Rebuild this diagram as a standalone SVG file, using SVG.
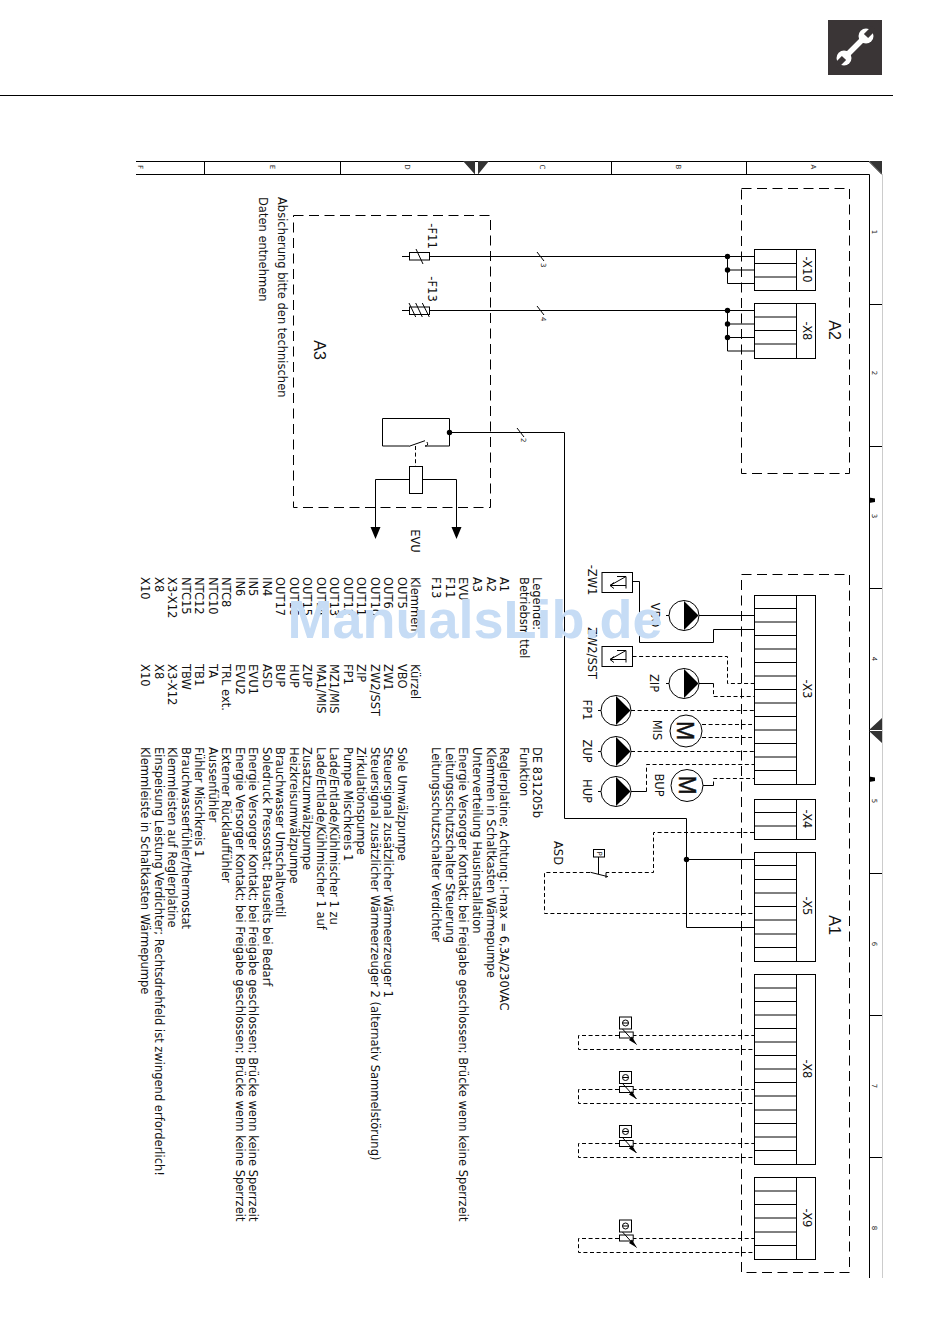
<svg xmlns="http://www.w3.org/2000/svg" width="950" height="1344" viewBox="0 0 950 1344">
<style>
text{font-family:"DejaVu Sans",Verdana,sans-serif;font-size:11.5px;fill:#111}
.l{fill:none;stroke:#000;stroke-width:1}
.d{fill:none;stroke:#000;stroke-width:1;stroke-dasharray:4 2.6}
.b{fill:none;stroke:#000;stroke-width:1;stroke-dasharray:10 5.5}
.w{fill:#fff;stroke:#000;stroke-width:1}
.k{fill:#000;stroke:none}
.m{text-anchor:middle}
.t{font-size:7px;fill:#222}
.big{font-size:16px;font-family:"Liberation Sans",Arial,sans-serif}
.mot{font-size:23px;font-family:"Liberation Sans",Arial,sans-serif;stroke:#111;stroke-width:.4}
</style>
<defs>
<g id="pump"><circle r="15" class="w"/><path class="k" d="M0 -14.500L14.500 0L0 14.500Z"/></g>
<g id="sensor"><rect x="0" y="-18" width="12" height="12" class="w"/><rect x="0" y="-3" width="13.700" height="6" class="w"/><circle cx="6" cy="-12" r="3" class="l"/><path class="l" d="M3 -12H9"/><path class="l" d="M3 -6L17 9.500"/><path class="k" d="M9.500 5L12.500 1.500L17 9.500Z"/></g>
<g id="zw"><rect x="0" y="0" width="30.500" height="20" class="w"/><path class="l" d="M15 4H24V16M24 4L8 13H24M8 13L12 10M8 13L12 16"/></g>
</defs>
<rect width="950" height="1344" fill="#fff"/>
<g id="page">
<path class="l" d="M0 95.500H893"/>
<rect x="828" y="20" width="54" height="55" fill="#3a3536"/>
<path d="M847 55L863 39" stroke="#fff" stroke-width="5.500" fill="none"/>
<circle cx="866" cy="36" r="7.500" fill="#fff"/><circle cx="844" cy="58" r="7.500" fill="#fff"/>
<path d="M866 36L874 28M844 58L836 66" stroke="#3a3536" stroke-width="6" fill="none"/>
</g>
<g id="frame">
<path class="l" d="M136 161.500H869L882 174.500M136 174.500H869.500V1278M204.500 161.500V174.500M340.500 161.500V174.500M611.500 161.500V174.500M746.500 161.500V174.500M869.500 304.500H882M869.500 446.500H882M869.500 588.500H882M869.500 873.500H882M869.500 1015.500H882M869.500 1157.500H882"/>
<path d="M882.500 174V1278" stroke="#ccc" stroke-width="1" fill="none"/>
<path fill="#333" d="M869 161H882V174Z"/>
<path fill="#333" d="M463 161H475V174.500ZM478 161H489L478 174.500Z"/>
<path fill="#333" d="M869 730L882 718V730ZM869 731H882V743Z"/>
<path class="k" d="M869 497.500L875 498.500V502L869 503Z"/>
<path class="k" d="M869 776.500L875 777.500V781L869 782Z"/>
<g transform="rotate(90)">
<text class="m t" x="167" y="-138">F</text><text class="m t" x="167" y="-270">E</text><text class="m t" x="167" y="-405">D</text><text class="m t" x="167" y="-540">C</text><text class="m t" x="167" y="-676">B</text><text class="m t" x="167" y="-811">A</text>
<text class="m t" x="232" y="-872">1</text><text class="m t" x="373" y="-872">2</text><text class="m t" x="516" y="-872">3</text><text class="m t" x="659" y="-872">4</text><text class="m t" x="801" y="-872">5</text><text class="m t" x="944" y="-872">6</text><text class="m t" x="1086" y="-872">7</text><text class="m t" x="1228" y="-872">8</text>
</g>
</g>
<g id="areas">
<rect id="A2-box" class="b" x="741.500" y="188.500" width="108" height="285"/>
<rect id="A1-box" class="b" x="741.500" y="574.500" width="108" height="698"/>
<rect id="A3-box" class="b" x="293.500" y="215.500" width="197" height="292"/>
</g>
<g id="connectors">
<path class="l" d="M429.500 256.500H754M727.500 256.500V283.500H754M727.500 270H754M429.500 310.500H754M727.500 310.500V351H754M727.500 324H754M727.500 337.500H754"/>
<path class="l" d="M537 252L544 261M537 306L544 315M517 428L524 437"/>
<path class="l" d="M449.500 432.500H564.500V818.500H686.500V927.500H754M686.500 859.500H754"/>
<path class="l" d="M699 615.500H754M632.500 581.500H639.500V642.500H713.500V629.500H754M699 683.500H713.500M631 791.500H646.500M703 785.500H713.500"/>
<path class="d" d="M632.500 656.500H727.500V683.500H754M713.500 683.500V696.500H754M631 710.500H754M702 724.500H752M702 737.500H752M631 751.500H754M646.500 791.500V764.500H754M713.500 785.500V778.500H754"/>
<path class="d" d="M754 832.500H653.500V872.500H606M590 872.500H544.500V913.500H754"/>
<path class="d" d="M632.500 1035.500H754M619 1035.500H578.500V1049.500H754M632.500 1089.500H754M619 1089.500H578.500V1103.500H754M632.500 1143.500H754M619 1143.500H578.500V1157.500H754M632.500 1238.500H754M619 1238.500H578.500V1252.500H754"/>
<path class="d" d="M415.500 446V466"/>
<path class="l" d="M409 479.500H375.500V527M423 479.500H456.500V527"/>
<path class="k" d="M370.500 527H380.500L375.500 539ZM451.500 527H461.500L456.500 539Z"/>
<g class="k"><circle cx="727.500" cy="256.500" r="2.700"/><circle cx="727.500" cy="270" r="2.700"/><circle cx="727.500" cy="310.500" r="2.700"/><circle cx="727.500" cy="324" r="2.700"/><circle cx="727.500" cy="337.500" r="2.700"/><circle cx="449.500" cy="432.500" r="2.700"/><circle cx="686.500" cy="859.500" r="2.700"/></g>
</g>
<g id="term-X10"><rect class="w" x="754.500" y="249.500" width="61" height="41"/><path class="l" d="M796.500 249.500V290.500M754.500 263.500H796.500M754.500 277H796.500"/><text class="m" transform="translate(803 269.500) rotate(90)">-X10</text></g>
<g id="term-X8a"><rect class="w" x="754.500" y="303.500" width="61" height="55"/><path class="l" d="M796.500 303.500V358.500M754.500 317H796.500M754.500 330.500H796.500M754.500 344H796.500"/><text class="m" transform="translate(803 331) rotate(90)">-X8</text></g>
<g id="term-X3"><rect class="w" x="754.500" y="595.500" width="61" height="189"/><path class="l" d="M796.500 595.500V784.500M754.500 608.500H796.500M754.500 622H796.500M754.500 635.500H796.500M754.500 649H796.500M754.500 662.500H796.500M754.500 676H796.500M754.500 689.500H796.500M754.500 703H796.500M754.500 716.500H796.500M754.500 730H796.500M754.500 743.500H796.500M754.500 757H796.500M754.500 770.500H796.500"/><text class="m" transform="translate(803 689) rotate(90)">-X3</text></g>
<g id="term-X4"><rect class="w" x="754.500" y="799.500" width="61" height="40"/><path class="l" d="M796.500 799.500V839.500M754.500 812.500H796.500M754.500 826H796.500"/><text class="m" transform="translate(803 819) rotate(90)">-X4</text></g>
<g id="term-X5"><rect class="w" x="754.500" y="852.500" width="61" height="109"/><path class="l" d="M796.500 852.500V961.500M754.500 865.500H796.500M754.500 879.500H796.500M754.500 893H796.500M754.500 906.500H796.500M754.500 920H796.500M754.500 934H796.500M754.500 947.500H796.500"/><text class="m" transform="translate(803 906) rotate(90)">-X5</text></g>
<g id="term-X8b"><rect class="w" x="754.500" y="974.500" width="61" height="190"/><path class="l" d="M796.500 974.500V1164.500M754.500 988H796.500M754.500 1001.500H796.500M754.500 1015H796.500M754.500 1028.500H796.500M754.500 1042H796.500M754.500 1055.500H796.500M754.500 1069H796.500M754.500 1082.500H796.500M754.500 1096H796.500M754.500 1110H796.500M754.500 1123.500H796.500M754.500 1137H796.500M754.500 1150.500H796.500"/><text class="m" transform="translate(803 1069) rotate(90)">-X8</text></g>
<g id="term-X9"><rect class="w" x="754.500" y="1177.500" width="61" height="82"/><path class="l" d="M796.500 1177.500V1259.500M754.500 1191H796.500M754.500 1204.500H796.500M754.500 1218H796.500M754.500 1232H796.500M754.500 1245.500H796.500"/><text class="m" transform="translate(803 1218) rotate(90)">-X9</text></g>
<g id="F11"><rect class="w" x="409.500" y="252.500" width="20" height="7.500"/><path class="l" d="M402 256.500H409.500M416 249L423 264"/><text class="m" transform="translate(428 236) rotate(90)">-F11</text></g>
<g id="F13"><rect class="w" x="409.500" y="307" width="20" height="7.500"/><path class="l" d="M402 310.500H409.500M409 303L415.700 317M415.700 303L422.300 317M422.300 303L429.300 317"/><text class="m" transform="translate(428 289) rotate(90)">-F13</text></g>
<g id="relay"><path class="l" d="M409 446H382.500V418.500H449.500V446H425M409 446.300L425 440.700M425 446Q429 446 427 442"/><rect class="w" x="409.500" y="466.500" width="13" height="27"/></g>
<g id="EVU-label"><text class="m" transform="translate(411 541) rotate(90)">EVU</text></g>
<g id="VBO"><use href="#pump" x="684" y="615.500"/><path class="l" d="M666 615.500H669"/></g>
<g id="ZIP"><use href="#pump" x="684" y="683.500"/><path class="l" d="M666 683.500H669"/></g>
<g id="FP1"><use href="#pump" x="616" y="710.500"/><path class="l" d="M598 710.500H601"/></g>
<g id="ZUP"><use href="#pump" x="616" y="751.500"/><path class="l" d="M598 751.500H601"/></g>
<g id="HUP"><use href="#pump" x="616" y="791.500"/><path class="l" d="M598 791.500H601"/></g>
<g id="MIS"><circle class="w" cx="686" cy="731" r="16"/><text class="m mot" transform="translate(677 730.500) rotate(90)">M</text></g>
<g id="BUP"><circle class="w" cx="687" cy="785.500" r="16"/><text class="m mot" transform="translate(678.500 785) rotate(90)">M</text></g>
<g id="ZW1"><use href="#zw" x="602" y="572.500"/></g>
<g id="ZW2"><use href="#zw" x="602" y="646.500"/></g>
<g id="ASD"><rect class="w" x="593.500" y="849.500" width="11" height="7.500"/><path class="l" d="M598.500 857V874M590.500 872.300L608 876.700M606 872.500V878"/><text class="m t" transform="translate(597 853.500) rotate(90)">P</text></g>
<g id="S1"><use href="#sensor" x="619.500" y="1035"/></g>
<g id="S2"><use href="#sensor" x="619.500" y="1089.500"/></g>
<g id="S3"><use href="#sensor" x="619.500" y="1143.500"/></g>
<g id="S4"><use href="#sensor" x="619.500" y="1238"/></g>
<g id="labels" transform="rotate(90)">
<text class="m big" x="330" y="-829">A2</text>
<text class="m big" x="925" y="-829">A1</text>
<text class="m big" x="350" y="-314">A3</text>
<text x="197" y="-278">Absicherung bitte den technischen</text>
<text x="197" y="-259">Daten entnehmen</text>
<text class="m" x="615" y="-651">VBO</text>
<text class="m" x="683" y="-650">ZIP</text>
<text class="m" x="710" y="-583">FP1</text>
<text class="m" x="751" y="-583">ZUP</text>
<text class="m" x="791" y="-583">HUP</text>
<text class="m" x="730" y="-653">MIS</text>
<text class="m" x="785" y="-655">BUP</text>
<text class="m" x="580" y="-588">-ZW1</text>
<text class="m" x="653" y="-588">ZW2/SST</text>
<text class="m" x="853" y="-554">ASD</text>
</g>
<g id="legend" transform="rotate(90)">
<text x="577" y="-533">Legende:</text><text x="747" y="-533">DE 831205b</text>
<text x="577" y="-520">Betriebsmittel</text><text x="747" y="-520">Funktion</text>
<text x="577" y="-500">A1</text><text x="747" y="-500">Reglerplatine; Achtung: I-max = 6,3A/230VAC</text>
<text x="577" y="-486.500">A2</text><text x="747" y="-486.500">Klemmen in Schaltkasten Wärmepumpe</text>
<text x="577" y="-473">A3</text><text x="747" y="-473">Unterverteilung Hausinstallation</text>
<text x="577" y="-459">EVU</text><text x="747" y="-459">Energie Versorger Kontakt; bei Freigabe geschlossen; Brücke wenn keine Sperrzeit</text>
<text x="577" y="-446">F11</text><text x="747" y="-446">Leitungsschutzschalter Steuerung</text>
<text x="577" y="-432">F13</text><text x="747" y="-432">Leitungsschutzschalter Verdichter</text>
<text x="577" y="-411">Klemmen</text><text x="664" y="-411">Kürzel</text>
<text x="577" y="-397.500">OUT5</text><text x="664" y="-397.500">VBO</text><text x="747" y="-397.500">Sole Umwälzpumpe</text>
<text x="577" y="-384">OUT6</text><text x="664" y="-384">ZW1</text><text x="747" y="-384">Steuersignal zusätzlicher Wärmeerzeuger 1</text>
<text x="577" y="-370.500">OUT10</text><text x="664" y="-370.500">ZW2/SST</text><text x="747" y="-370.500">Steuersignal zusätzlicher Wärmeerzeuger 2 (alternativ Sammelstörung)</text>
<text x="577" y="-357">OUT11</text><text x="664" y="-357">ZIP</text><text x="747" y="-357">Zirkulationspumpe</text>
<text x="577" y="-343.500">OUT12</text><text x="664" y="-343.500">FP1</text><text x="747" y="-343.500">Pumpe Mischkreis 1</text>
<text x="577" y="-330">OUT13</text><text x="664" y="-330">MZ1/MIS</text><text x="747" y="-330">Lade/Entlade/Kühlmischer 1 zu</text>
<text x="577" y="-316.500">OUT14</text><text x="664" y="-316.500">MA1/MIS</text><text x="747" y="-316.500">Lade/Entlade/Kühlmischer 1 auf</text>
<text x="577" y="-303">OUT15</text><text x="664" y="-303">ZUP</text><text x="747" y="-303">Zusatzumwälzpumpe</text>
<text x="577" y="-289.500">OUT16</text><text x="664" y="-289.500">HUP</text><text x="747" y="-289.500">Heizkreisumwälzpumpe</text>
<text x="577" y="-276">OUT17</text><text x="664" y="-276">BUP</text><text x="747" y="-276">Brauchwasser Umschaltventil</text>
<text x="577" y="-262.500">IN4</text><text x="664" y="-262.500">ASD</text><text x="747" y="-262.500">Soledruck Pressostat; Bauseits bei Bedarf</text>
<text x="577" y="-249">IN5</text><text x="664" y="-249">EVU1</text><text x="747" y="-249">Energie Versorger Kontakt; bei Freigabe geschlossen; Brücke wenn keine Sperrzeit</text>
<text x="577" y="-235.500">IN6</text><text x="664" y="-235.500">EVU2</text><text x="747" y="-235.500">Energie Versorger Kontakt; bei Freigabe geschlossen; Brücke wenn keine Sperrzeit</text>
<text x="577" y="-222">NTC8</text><text x="664" y="-222">TRL ext.</text><text x="747" y="-222">Externer Rücklauffühler</text>
<text x="577" y="-208.500">NTC10</text><text x="664" y="-208.500">TA</text><text x="747" y="-208.500">Aussenfühler</text>
<text x="577" y="-195">NTC12</text><text x="664" y="-195">TB1</text><text x="747" y="-195">Fühler Mischkreis 1</text>
<text x="577" y="-181.500">NTC15</text><text x="664" y="-181.500">TBW</text><text x="747" y="-181.500">Brauchwasserfühler/thermostat</text>
<text x="577" y="-168">X3-X12</text><text x="664" y="-168">X3-X12</text><text x="747" y="-168">Klemmleisten auf Reglerplatine</text>
<text x="577" y="-154.500">X8</text><text x="664" y="-154.500">X8</text><text x="747" y="-154.500">Einspeisung Leistung Verdichter; Rechtsdrehfeld ist zwingend erforderlich!</text>
<text x="577" y="-141">X10</text><text x="664" y="-141">X10</text><text x="747" y="-141">Klemmleiste in Schaltkasten Wärmepumpe</text>
</g>
<g id="wire-numbers" transform="rotate(90)">
<text class="t" x="263" y="-541">3</text><text class="t" x="317" y="-541">4</text><text class="t" x="438" y="-521">2</text>
</g>
<g id="watermark"><text x="475" y="638" text-anchor="middle" style="font-family:'Liberation Sans',Arial,sans-serif;font-weight:bold;font-size:54px;fill:#c6dcf5">ManualsLib.de</text></g>
</svg>
